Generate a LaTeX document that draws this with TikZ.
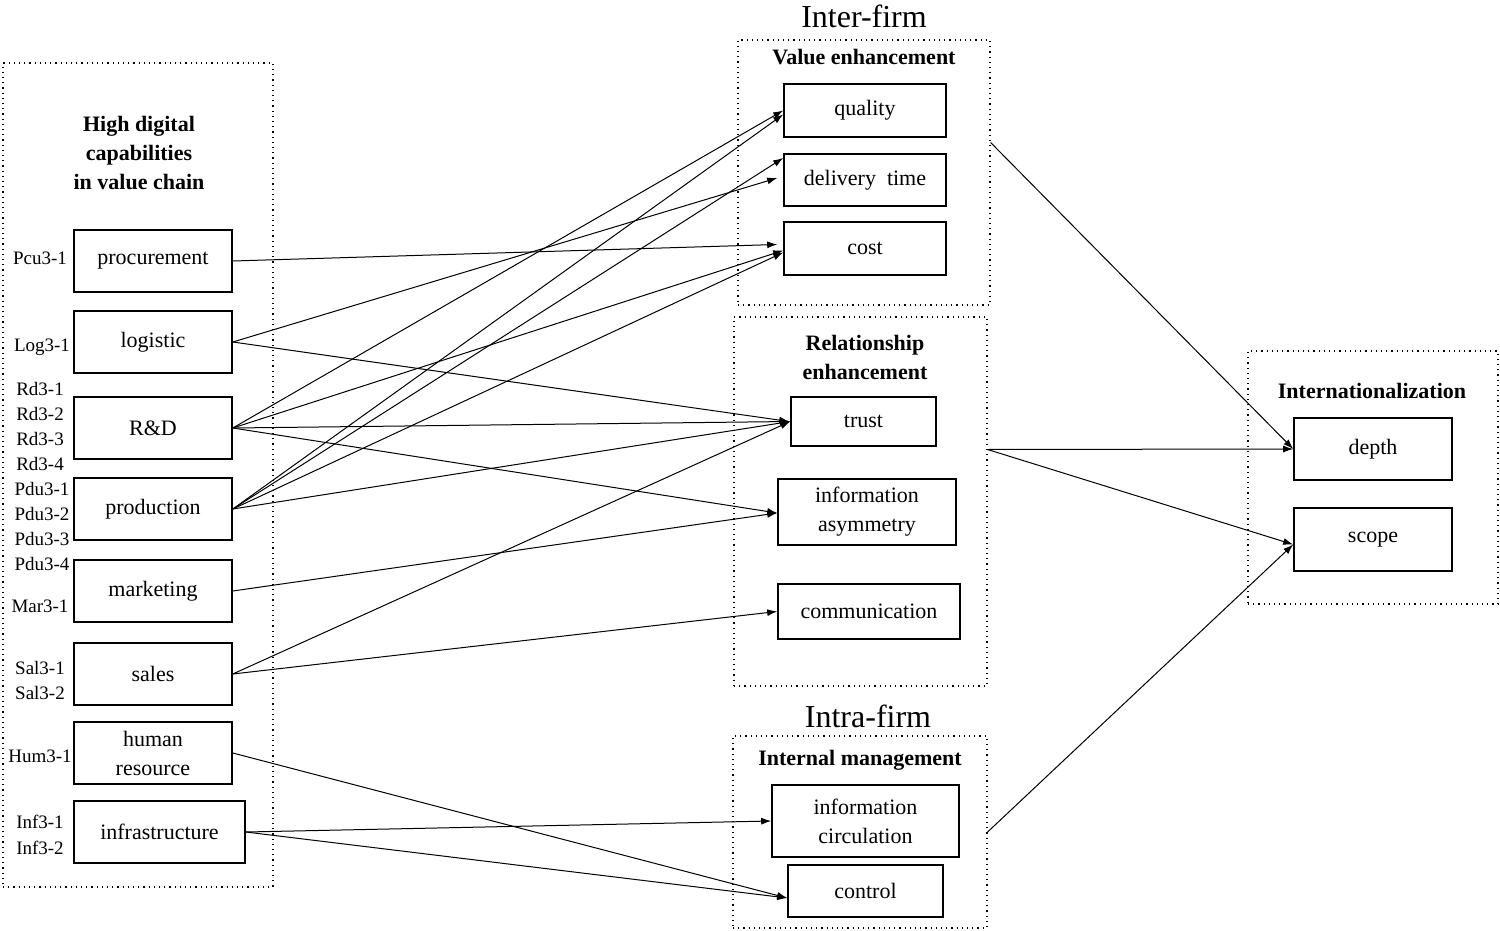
\documentclass[tikz,border=0pt]{standalone}
\usepackage{fontspec}
\setmainfont{Liberation Serif}
\usetikzlibrary{arrows.meta,calc}
\begin{document}
\begin{tikzpicture}[x=0.5pt,y=-0.5pt,
  bx/.style={draw,line width=0.8pt,inner sep=0pt,align=center,font=\fontsize{11}{14.5}\selectfont},
  frm/.style={draw,dotted,line width=0.6pt,inner sep=0pt},
  ttl/.style={font=\fontsize{11}{14.5}\selectfont\bfseries,align=center},
  lab/.style={font=\fontsize{9.5}{12}\selectfont,inner sep=0pt},
  big/.style={font=\fontsize{16}{18}\selectfont},
  ar/.style={-{Latex[length=5pt,width=3.5pt]},line width=0.5pt}]
\useasboundingbox (0,0) rectangle (1500,931);
% frames
\node[frm,minimum width=135pt,minimum height=412pt] (lf) at (138,475) {};
\node[frm,minimum width=126pt,minimum height=132.5pt] (vf) at (864,172.5) {};
\node[frm,minimum width=126.5pt,minimum height=184.5pt] (rf) at (860.5,501.5) {};
\node[frm,minimum width=127pt,minimum height=96pt] (mf) at (860,832) {};
\node[frm,minimum width=125pt,minimum height=126.5pt] (nf) at (1373,477.5) {};
% titles
\node[ttl] (t1) at (139,153) {High digital\\capabilities\\in value chain};
\node[big] (t2) at (864,16) {Inter-firm};
\node[ttl] (t3) at (864,57) {Value enhancement};
\node[ttl] (t4) at (865,357) {Relationship\\enhancement};
\node[big] (t5) at (868,716) {Intra-firm};
\node[ttl] (t6) at (860,760) {Internal management};
\node[ttl] (t7) at (1372,391) {Internationalization};
% left boxes
\node[bx,minimum width=79pt,minimum height=31pt] (pro) at (153,261) {procurement};
\node[bx,minimum width=79pt,minimum height=31pt] (log) at (153,342) {logistic};
\node[bx,minimum width=79pt,minimum height=31pt] (rd) at (153,428) {R\&D};
\node[bx,minimum width=79pt,minimum height=31pt] (prd) at (153,509) {production};
\node[bx,minimum width=79pt,minimum height=31pt] (mar) at (153,591) {marketing};
\node[bx,minimum width=79pt,minimum height=31pt] (sal) at (153,674) {sales};
\node[bx,minimum width=79pt,minimum height=31pt] (hum) at (153,753) {human\\resource};
\node[bx,minimum width=85.5pt,minimum height=31pt] (inf) at (159.5,832) {infrastructure};
% labels
\foreach \t/\x/\y [count=\i] in {Pcu3-1/40/258,Log3-1/42/347,Rd3-1/40/389,Rd3-2/40/414,Rd3-3/40/439,Rd3-4/40/464,Pdu3-1/42/489,Pdu3-2/42/514,Pdu3-3/42/539,Pdu3-4/42/564,Mar3-1/40/606,Sal3-1/40/668,Sal3-2/40/693,Hum3-1/40/756,Inf3-1/40/822,Inf3-2/40/848}
  \node[lab] (l\i) at (\x,\y) {\t};
% middle
\node[bx,minimum width=81pt,minimum height=26.5pt] (qua) at (865,110.5) {quality};
\node[bx,minimum width=81pt,minimum height=26pt] (del) at (865,180) {delivery\ \ time};
\node[bx,minimum width=81pt,minimum height=26.5pt] (cos) at (865,248.5) {cost};
\node[bx,minimum width=72.5pt,minimum height=24.5pt] (tru) at (863.5,421.5) {trust};
\node[bx,minimum width=89pt,minimum height=33pt] (asy) at (867,512) {information\\asymmetry};
\node[bx,minimum width=91pt,minimum height=27.5pt] (com) at (869,611.5) {communication};
\node[bx,minimum width=93.5pt,minimum height=36pt] (cir) at (865.5,821) {information\\circulation};
\node[bx,minimum width=77.5pt,minimum height=26pt] (con) at (865.5,891) {control};
\node[bx,minimum width=79pt,minimum height=31pt] (dep) at (1373,449) {depth};
\node[bx,minimum width=79pt,minimum height=31.5pt] (sco) at (1373,539.5) {scope};
% arrows
\draw[ar] (pro.east) -- ($(cos.west)+(-6,-4)$);
\draw[ar] (log.east) -- ($(del.west)+(-6,-2)$);
\draw[ar] (log.east) -- ($(tru.west)+(-1,0)$);
\draw[ar] (rd.east) -- (qua.west);
\draw[ar] (rd.east) -- ($(cos.west)+(0,2)$);
\draw[ar] (rd.east) -- (tru.west);
\draw[ar] (rd.east) -- ($(asy.west)+(0,1)$);
\draw[ar] (prd.east) -- ($(qua.west)+(0,4)$);
\draw[ar] (prd.east) -- ($(del.west)+(0,-22)$);
\draw[ar] (prd.east) -- ($(cos.west)+(0,4)$);
\draw[ar] (prd.east) -- (tru.west);
\draw[ar] (mar.east) -- ($(asy.west)+(0,1)$);
\draw[ar] (sal.east) -- (tru.west);
\draw[ar] (sal.east) -- (com.west);
\draw[ar] (hum.east) -- ($(con.west)+(0,7)$);
\draw[ar] (inf.east) -- (cir.west);
\draw[ar] (inf.east) -- ($(con.west)+(0,7)$);
\draw[ar] ($(vf.east)+(0,-30)$) -- (dep.west);
\draw[ar] ($(rf.east)+(0,-52)$) -- (dep.west);
\draw[ar] ($(rf.east)+(0,-52)$) -- ($(sco.west)+(0,5)$);
\draw[ar] (mf.east) -- ($(sco.west)+(0,5)$);
\end{tikzpicture}
\end{document}
